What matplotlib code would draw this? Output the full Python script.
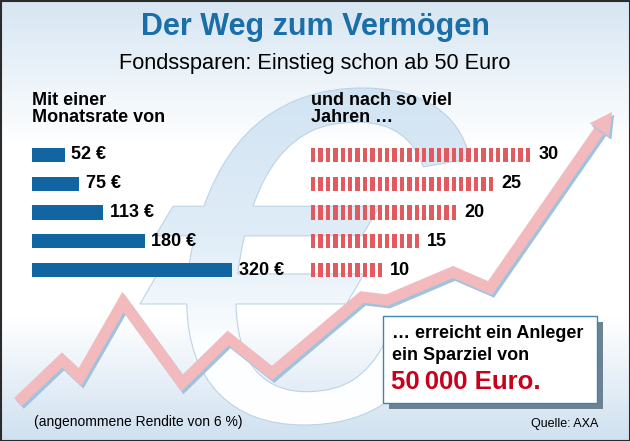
"""
Der Weg zum Vermoegen - Fondssparen infographic (AXA).
Monthly rate bars, years-to-goal stripe bars and a rising arrow on a euro background.
"""

import numpy as np
import matplotlib
matplotlib.use("Agg")
import matplotlib.pyplot as plt
from matplotlib import patheffects as pe
from matplotlib.font_manager import FontProperties
from matplotlib.patches import Rectangle, Polygon, PathPatch
from matplotlib.textpath import TextPath
from matplotlib.transforms import Affine2D


W, H = 630, 441

TITLE = "Der Weg zum Vermögen"
SUBTITLE = "Fondssparen: Einstieg schon ab 50 Euro"
LEFT_HEAD = "Mit einer\nMonatsrate von"
RIGHT_HEAD = "und nach so viel\nJahren …"

rates = [52, 75, 113, 180, 320]          # Euro per month
years = [30, 25, 20, 15, 10]             # years needed

# decorative growth arrow (pixel units)
growth_x = [18, 62, 80, 123, 182, 228, 272, 362, 387, 453, 490, 612]
growth_y = [402, 360, 377, 302, 383, 338, 373, 297, 300, 272, 288, 112]

BLUE = "#1166a2"
TITLE_BLUE = "#1a6fa8"
STRIPE_RED = "#e05a5e"
GOAL_RED = "#c8001a"
PINK = "#f3babd"
SHADOW_BLUE = "#9fc3df"

plt.rcParams["font.family"] = ["Liberation Sans", "DejaVu Sans"]


def px_axes(fig, x0, y0, x1, y1):
    """axes placed by pixel box, y counted from the top"""
    ax = fig.add_axes([x0 / W, 1 - y1 / H, (x1 - x0) / W, (y1 - y0) / H])
    ax.axis("off")
    ax.patch.set_visible(False)
    return ax


def vgrad(n, stops):
    """rgb column image from (position, rgb) stops"""
    t = np.linspace(0, 1, n)
    pos = [s[0] for s in stops]
    cols = np.array([s[1] for s in stops])
    col = np.stack([np.interp(t, pos, cols[:, k]) for k in range(3)], axis=1)
    return np.repeat(col[:, None, :], 2, axis=1)


fig = plt.figure(figsize=(W / 100, H / 100), dpi=100)

bg = px_axes(fig, 0, 0, W, H)
bg.set_xlim(0, W)
bg.set_ylim(H, 0)

# vertical gradient: light blue top, white middle, light blue bottom
bg.imshow(vgrad(H, [(0, (0.84, 0.90, 0.95)), (0.33, (1, 1, 1)), (0.72, (1, 1, 1)),
                    (1, (0.81, 0.88, 0.94))]),
          extent=[0, W, H, 0], aspect="auto", zorder=0)

# big euro sign in the background, filled blue at the top fading to white
tp = TextPath((0, 0), "€", size=1, prop=FontProperties(family="Liberation Sans", style="italic"))
ext = tp.get_extents()
ex0, ex1, ey0, ey1 = 140, 470, 88, 425
tr = Affine2D().translate(-ext.x0, -ext.y0).scale((ex1 - ex0) / ext.width,
                                                   -(ey1 - ey0) / ext.height).translate(ex0, ey1)
euro = PathPatch(tr.transform_path(tp), facecolor="none", edgecolor="#bcd3e6", lw=0.8, zorder=1.5)
bg.add_patch(euro)
fill = bg.imshow(vgrad(200, [(0, (0.82, 0.89, 0.95)), (0.45, (0.88, 0.93, 0.97)),
                             (0.75, (0.99, 0.995, 1)), (1, (1, 1, 1))]),
                 extent=[ex0 - 5, ex1 + 5, ey1 + 5, ey0 - 5], aspect="auto", zorder=1)
fill.set_clip_path(euro)
bg.set_xlim(0, W)
bg.set_ylim(H, 0)

# growth arrow with blue shadow
gx = np.array(growth_x, float)
gy = np.array(growth_y, float)
d = np.array([gx[-1] - gx[-2], gy[-1] - gy[-2]])
d /= np.hypot(*d)
n = np.array([-d[1], d[0]])
tip = np.array([gx[-1], gy[-1]])
base = tip - 22 * d
head = [tip, base + 12 * n, base - 12 * n]
line_x = np.append(gx[:-1], base[0])
line_y = np.append(gy[:-1], base[1])
shadow = [pe.SimpleLineShadow(offset=(1.5, -2), shadow_color=SHADOW_BLUE, alpha=1), pe.Normal()]
bg.plot(line_x, line_y, color=PINK, lw=8, solid_joinstyle="miter",
        solid_capstyle="butt", zorder=3, path_effects=shadow)
bg.add_patch(Polygon(head, closed=True, facecolor=PINK, edgecolor="none", zorder=3,
                     path_effects=[pe.SimplePatchShadow(offset=(1.5, -2), shadow_rgbFace=SHADOW_BLUE,
                                                        alpha=1), pe.Normal()]))

# titles
bg.text(W / 2, 27, TITLE, ha="center", va="center", fontsize=22, weight="bold",
        color=TITLE_BLUE, zorder=5)
bg.text(W / 2, 64, SUBTITLE, ha="center", va="center", fontsize=15.7, zorder=5)

bg.text(32, 109, LEFT_HEAD, ha="left", va="center", fontsize=13, weight="bold",
        linespacing=1.0, zorder=5)
bg.text(311, 109, RIGHT_HEAD, ha="left", va="center", fontsize=13, weight="bold",
        linespacing=1.0, zorder=5)

# monthly rate bars
ax_r = px_axes(fig, 32, 140.6, 282, 284.4)
ax_r.set_xlim(0, 400)
ax_r.set_ylim(len(rates) - 0.5, -0.5)
ax_r.barh(range(len(rates)), rates, height=0.49, color=BLUE)
for i, v in enumerate(rates):
    ax_r.annotate(f"{v} €", (v, i), xytext=(5, 0), textcoords="offset points",
                  ha="left", va="center", fontsize=13, weight="bold")

# years as stripes, one per year
pitch = 7.4
ax_y = px_axes(fig, 311, 140.6, 600, 284.4)
ax_y.set_xlim(0, 289 / pitch)
ax_y.set_ylim(len(years) - 0.5, -0.5)
for i, n_years in enumerate(years):
    ax_y.barh([i] * n_years, 0.6, left=np.arange(n_years), height=0.5, color=STRIPE_RED)
    ax_y.annotate(str(n_years), (n_years - 1 + 0.6, i), xytext=(6, 0), textcoords="offset points",
                  ha="left", va="center", fontsize=13, weight="bold")

# goal box with shadow
bg.add_patch(Rectangle((389, 322), 214, 87, facecolor="#6c8191", edgecolor="none", zorder=6))
bg.add_patch(Rectangle((383, 316), 214, 87, facecolor="white", edgecolor="#3f86ad", lw=1, zorder=7))
bg.text(392, 333, "… erreicht ein Anleger", ha="left", va="center", fontsize=13,
        weight="bold", zorder=8)
bg.text(392, 355, "ein Sparziel von", ha="left", va="center", fontsize=13, weight="bold", zorder=8)
bg.text(391, 382, "50\u2009000 Euro.", ha="left", va="center", fontsize=18.5, weight="bold",
        color=GOAL_RED, zorder=8)

# footnotes
bg.text(34, 422, "(angenommene Rendite von 6 %)", ha="left", va="center", fontsize=10, zorder=5)
bg.text(598, 424, "Quelle: AXA", ha="right", va="center", fontsize=9, zorder=5)

# outer frame
bg.add_patch(Rectangle((0.5, 0.5), W - 1, H - 1, fill=False, edgecolor="#2b2b2b", lw=1.5, zorder=10))

fig.savefig("out.png", dpi=100)
